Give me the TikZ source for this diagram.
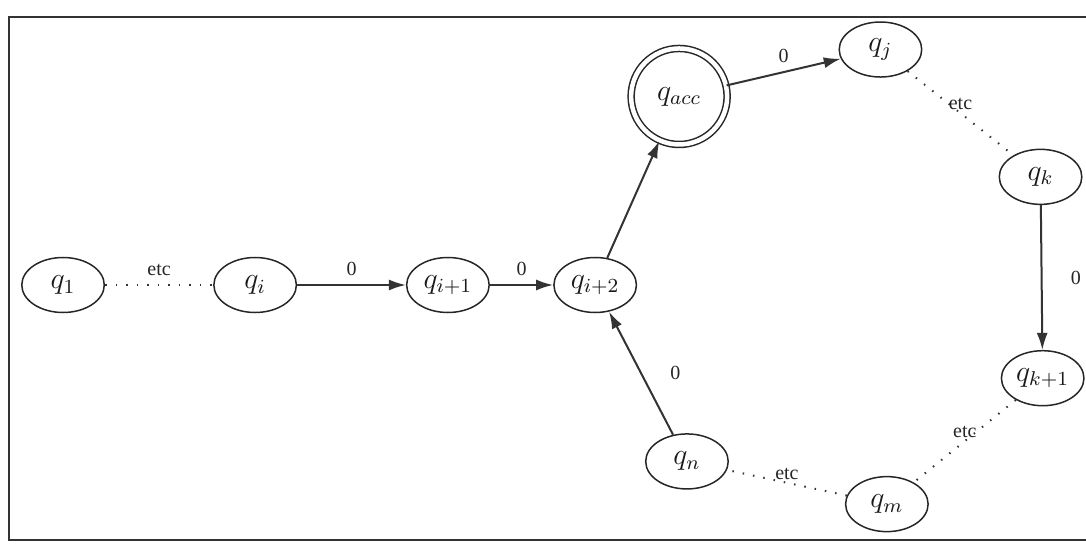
\documentclass[tikz,border=0pt]{standalone}
\usepackage{fontspec}
\setmainfont{Liberation Serif}
\usepackage{tikz}
\usetikzlibrary{shapes.geometric, arrows.meta}
\tikzstyle{qstate} = [ellipse, draw=black!85, line width=0.6pt, minimum
    width=33pt, minimum height=22pt, inner sep=1pt, text centered,
font=\large, text=black!90]
\tikzstyle{accstate} = [qstate, circle, double, double distance=1.8pt,
minimum size=38.4pt]
\tikzstyle{arrow} = [thick,->,>={Latex[length=6.8pt,width=4.4pt]}, draw=black!80]
\tikzstyle{etcline} = [line width=0.8pt, dash pattern=on 0.6pt off 3.6pt,
draw=black!80]
\tikzstyle{lbl} = [font=\footnotesize, text=black!85]
\tikzstyle{frame} = [thick, draw=black!80]

\begin{document}
\begin{tikzpicture}
            \useasboundingbox (-0.886,4.006) rectangle (14.379,-3.669);
            % Frame
            \draw[frame] (14.5,3.77) -| (-0.76,-3.58) -- (14.5,-3.58);
            % States
            \node[qstate] (q1) {$q_1$};
            \node[qstate, right of=q1, xshift=1.7cm] (qi) {$q_i$};
            \node[qstate, right of=qi, xshift=1.71cm] (qi1) {$q_{i+1}$};
            \node[qstate, right of=qi1, xshift=1.07cm] (qi2) {$q_{i+2}$};
            \node[accstate, above of=qi2, xshift=1.18cm, yshift=1.65cm] (qacc) {$q_{acc}$};
            \node[qstate, right of=qacc, xshift=1.83cm, yshift=0.66cm] (qj) {$q_j$};
            \node[qstate, below of=qj, xshift=2.25cm, yshift=-0.79cm] (qk) {$q_k$};
            \node[qstate, below of=qk, xshift=0.03cm, yshift=-1.83cm] (qk1) {$q_{k+1}$};
            \node[qstate, left of=qk1, xshift=-1.19cm, yshift=-1.77cm] (qm) {$q_m$};
            \node[qstate, left of=qm, xshift=-1.81cm, yshift=0.6cm] (qn) {$q_n$};
            % Transitions
            \draw[etcline] (q1) -- node[lbl, above] {etc} (qi);
            \draw[arrow] (qi) -- node[lbl, above] {0} (qi1);
            \draw[arrow] (qi1) -- node[lbl, above] {0} (qi2);
            \draw[arrow] (qi2) -- (qacc);
            \draw[arrow] (qacc) -- node[lbl, above] {0} (qj);
            \draw[etcline] (qj) -- node[lbl, above, inner sep=1pt] {etc} (qk);
            \draw[arrow] (qk) -- node[lbl, right=8pt] {0} (qk1);
            \draw[etcline] (qk1) -- node[lbl, above, inner sep=1pt] {etc} (qm);
            \draw[etcline] (qm) -- node[lbl, above, inner sep=1pt] {etc} (qn);
            \draw[arrow] (qn) -- node[lbl, right=8pt] {0} (qi2);
        \end{tikzpicture}
\end{document}
